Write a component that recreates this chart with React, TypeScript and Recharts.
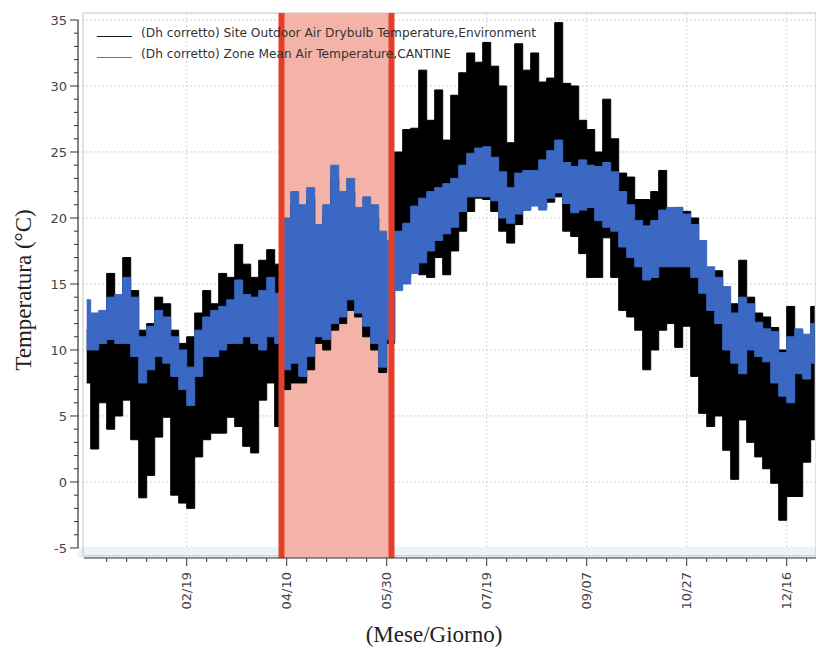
import { ComposedChart, Area, XAxis, YAxis, CartesianGrid, ReferenceArea, ReferenceLine, Legend } from 'recharts';

// day of year (0 = Jan 1), sampled every 4 days
const days = [
  0, 4, 8, 12, 16, 20, 24, 28, 32, 36, 40, 44, 48, 52, 56, 60, 64, 68, 72, 76, 80, 84, 88, 92, 96,
  100, 104, 108, 112, 116, 120, 124, 128, 132, 136, 140, 144, 148, 152,
  156, 160, 164, 168, 172, 176, 180, 184, 188, 192, 196, 200, 204, 208, 212, 216, 220, 224, 228, 232,
  236, 240, 244, 248, 252, 256, 260, 264, 268, 272, 276, 280, 284, 288, 292, 296, 300, 304, 308, 312,
  316, 320, 324, 328, 332, 336, 340, 344, 348, 352, 356, 360, 364,
];

// outdoor drybulb (black) low / high envelope
const outdoorMin = [
  7.5, 2.5, 6, 4, 5, 6.2, 3.2, -1.2, 0.5, 3.4, 4.9, -1, -1.6, -2, 1.9, 3.2, 3.7, 3.7, 4.9, 4.2, 2.7, 2.2, 6.2, 7.5, 4.2,
  7, 7.5, 7.5, 8.5, 10.5, 10, 11.5, 12, 13, 12.5, 11, 10, 8.3, 10.5,
  15, 15.5, 16, 15.7, 15.5, 17, 15.7, 17.5, 19, 20.5, 21.5, 21.4, 20.5, 19, 18.1, 19.5, 20.6, 21, 20.8, 21.2,
  21.6, 19, 18.6, 17.3, 15.5, 15.5, 18.5, 15.5, 13, 12.5, 11.5, 8.5, 10, 11.5, 12, 10.2, 11.8, 8, 5.2, 4.2,
  5, 2.4, 0.2, 4.7, 3, 1.9, 1, -0.1, -2.9, -1.1, -1.1, 1.5, 3.2,
];
const outdoorMax = [
  11.5, 12, 12.5, 15.8, 13.5, 17, 14.5, 11.5, 12, 14, 13.5, 11.5, 10.5, 11, 12.8, 14.5, 13.5, 15.8, 15.5, 18, 16.5, 15.5, 16.8, 17.6, 16.5,
  19, 21, 20, 21.5, 18.5, 20, 23, 21, 22, 20, 20.5, 20, 18, 17.5,
  25, 26.7, 26.8, 31.2, 27.4, 29.7, 25.9, 29.3, 31, 32.5, 31.8, 33.3, 31.5, 30, 25.7, 33.2, 31.2, 32.5, 30.3, 30.6,
  34.8, 30.2, 30, 27.4, 26.7, 25, 29, 26, 23.4, 23.1, 21.4, 21.4, 22, 23.6, 20.6, 20.8, 20.5, 20, 16.3, 16,
  16, 12.8, 13.5, 16.8, 14, 12.8, 12.5, 11.7, 10, 13.3, 11.5, 10.8, 13.3,
];

// zone mean air temperature (blue) low / high envelope
const zoneMin = [
  10, 10, 10.5, 10.8, 10.5, 10.5, 9.5, 7.5, 8.5, 9.5, 9, 8, 7, 5.8, 8, 9.5, 9.5, 10, 10.5, 10.5, 11, 10.5, 10, 11, 10.5,
  8.5, 9, 8, 9.5, 11, 10.8, 12, 12.5, 13.8, 12.8, 11.8, 10.5, 8.7, 10.8,
  14.5, 15, 15.8, 16.6, 17.5, 18.3, 18.8, 19.3, 20.5, 21.6, 21.6, 21.6, 21.3, 20, 19.6, 20.3, 20.6, 20.9, 20.6, 21.5,
  21.9, 21.1, 20.4, 20.6, 20.8, 19.8, 19.3, 19, 17.8, 17, 16.3, 15.3, 15.5, 16.3, 16.3, 16.3, 16.3, 15.5, 14.3, 13,
  12, 10, 9, 8.2, 10, 9.5, 9.1, 7.5, 6.5, 6, 8.2, 7.8, 9,
];
const zoneMax = [
  13.8, 12.8, 13, 14, 14.2, 15.5, 14, 11, 11.8, 13, 12.5, 11, 10, 8.7, 11.5, 12.5, 13, 13.3, 13.8, 15.3, 14.2, 14, 14.5, 15.5, 14.3,
  20, 22, 21, 22.3, 19.5, 21, 24, 22, 23, 20.8, 21.6, 21, 19, 18.3,
  19, 19.6, 20.9, 21.5, 22, 22.3, 22.6, 23, 24, 24.9, 25.3, 25.4, 24.6, 23.5, 22.3, 23.4, 23.6, 23.6, 24.4, 25.1,
  25.9, 24.2, 23.9, 24.4, 24, 23.9, 24.2, 23.5, 22, 21, 19.8, 19.4, 19.8, 20.6, 20.8, 20.8, 20.3, 19.5, 18.3, 16.3,
  15.5, 14.8, 12.8, 14, 13.5, 12.1, 11.6, 11.4, 9.8, 11, 11.6, 11.2, 12,
];

const seriesNames = [
  '(Dh corretto) Site Outdoor Air Drybulb Temperature,Environment',
  '(Dh corretto) Zone Mean Air Temperature,CANTINE',
];
const legendColors = ['#1a1a1a', '#5a6fcc'];

const xTickDays = [50, 100, 150, 200, 250, 300, 350];
const xTickLabels = ['02/19', '04/10', '05/30', '07/19', '09/07', '10/27', '12/16'];
const xMinorDays = [
  10, 20, 30, 40, 50, 60, 70, 80, 90, 100, 110, 120, 130, 140, 150, 160, 170, 180,
  190, 200, 210, 220, 230, 240, 250, 260, 270, 280, 290, 300, 310, 320, 330, 340, 350, 360,
];
const yMajorTicks = [-5, 0, 5, 10, 15, 20, 25, 30, 35];
const yMinorTicks = [
  -5, -4, -3, -2, -1, 0, 1, 2, 3, 4, 5, 6, 7, 8, 9, 10, 11, 12, 13, 14, 15, 16, 17, 18, 19, 20,
  21, 22, 23, 24, 25, 26, 27, 28, 29, 30, 31, 32, 33, 34, 35,
];

// highlighted period (day of year)
const windowStart = 97.4;
const windowEnd = 152.4;

const X_DOMAIN: [number, number] = [-4.35, 364.65];
const Y_DOMAIN: [number, number] = [-5.76, 35.53];

const data = days.map((d, i) => ({
  day: d,
  outdoor: [outdoorMin[i], outdoorMax[i]],
  zone: [zoneMin[i], zoneMax[i]],
}));

const AXIS = '#333';
const FONT = 'DejaVu Sans, Verdana, sans-serif';
const SERIF = 'Liberation Serif, serif';

const XTick = ({ x, y, payload }: any) => {
  const i = xTickDays.indexOf(payload.value);
  const major = i >= 0;
  const tx = x + 4.7;
  const ty = y + 14;
  return (
    <g>
      <line x1={x} y1={y} x2={x} y2={y + (major ? 8 : 4)} stroke={AXIS} />
      {major && (
        <text x={tx} y={ty} transform={`rotate(-90 ${tx} ${ty})`} textAnchor="end" fontSize={13} fill="#444" fontFamily={FONT}>
          {xTickLabels[i]}
        </text>
      )}
    </g>
  );
};

const YTick = ({ x, y, payload }: any) => {
  const major = yMajorTicks.includes(payload.value);
  return (
    <g>
      <line x1={x - (major ? 8 : 4)} y1={y} x2={x} y2={y} stroke={AXIS} />
      {major && (
        <text x={x - 11} y={y} dy="0.36em" textAnchor="end" fontSize={13} fill="#444" fontFamily={FONT}>
          {payload.value}
        </text>
      )}
    </g>
  );
};

const renderLegend = () => (
  <div style={{ fontFamily: FONT, fontSize: 12.2, color: '#333' }}>
    {seriesNames.map((name, i) => (
      <div key={name} style={{ display: 'flex', alignItems: 'center', height: 21, whiteSpace: 'nowrap' }}>
        <span style={{ display: 'inline-block', width: 35, height: 1, background: legendColors[i], marginRight: 9, position: 'relative', top: 4 }} />
        <span>{name}</span>
      </div>
    ))}
  </div>
);

export default function App() {
  return (
    <div style={{ position: 'absolute', left: 0, top: 0, width: 816, height: 648, background: '#fff' }}>
      <ComposedChart width={816} height={648} data={data} margin={{ top: 13, right: 0, bottom: 0, left: 0 }}>
        <ReferenceArea y1={Y_DOMAIN[0]} y2={-5} fill="#edf2f6" fillOpacity={1} stroke="none" />
        <CartesianGrid
          stroke="#d2d2d2"
          strokeDasharray="2 2"
          horizontalValues={yMajorTicks}
          verticalValues={xTickDays}
        />
        <XAxis
          type="number"
          dataKey="day"
          domain={X_DOMAIN}
          allowDataOverflow
          ticks={xMinorDays}
          interval={0}
          tick={<XTick />}
          tickLine={false}
          tickSize={0}
          tickMargin={0}
          height={90}
          axisLine={false}
          label={() => (
            <text x={434} y={642} textAnchor="middle" fontSize={23} fill="#222" fontFamily={SERIF}>
              (Mese/Giorno)
            </text>
          )}
        />
        <YAxis
          type="number"
          domain={Y_DOMAIN}
          allowDataOverflow
          ticks={yMinorTicks}
          interval={0}
          tick={<YTick />}
          tickLine={false}
          tickSize={0}
          tickMargin={0}
          width={78}
          axisLine={false}
          label={() => (
            <text x={23} y={290} transform="rotate(-90 23 290)" textAnchor="middle" dominantBaseline="central" fontSize={23} fill="#222" fontFamily={SERIF}>
              Temperatura (°C)
            </text>
          )}
        />
        <ReferenceArea x1={-1.85} x2={X_DOMAIN[1]} y1={-5.6} y2={Y_DOMAIN[1]} fill="none" stroke="#c4c4c4" ifOverflow="visible" />
        <ReferenceArea x1={windowStart} x2={windowEnd} fill="#f4b3a8" fillOpacity={1} stroke="none" />
        <Area
          type="step"
          dataKey="outdoor"
          name={seriesNames[0]}
          stroke="#000"
          strokeWidth={1}
          fill="#000"
          fillOpacity={1}
          dot={false}
          activeDot={false}
          isAnimationActive={false}
        />
        <Area
          type="step"
          dataKey="zone"
          name={seriesNames[1]}
          stroke="#3b68c2"
          strokeWidth={1}
          fill="#3b68c2"
          fillOpacity={1}
          dot={false}
          activeDot={false}
          isAnimationActive={false}
        />
        <ReferenceLine x={windowStart} stroke="#e3402a" strokeWidth={6} />
        <ReferenceLine x={windowEnd} stroke="#e3402a" strokeWidth={6} />
        {/* axis lines: y axis only spans -5..35, x axis starts at the plot frame */}
        <ReferenceLine segment={[{ x: X_DOMAIN[0], y: -5 }, { x: X_DOMAIN[0], y: 35 }]} stroke={AXIS} strokeWidth={1.2} ifOverflow="visible" />
        <ReferenceLine segment={[{ x: -1.35, y: Y_DOMAIN[0] }, { x: X_DOMAIN[1], y: Y_DOMAIN[0] }]} stroke={AXIS} strokeWidth={1.2} ifOverflow="visible" />
        <Legend
          layout="vertical"
          verticalAlign="middle"
          content={renderLegend}
          wrapperStyle={{ position: 'absolute', left: 97, top: 22, width: 'auto', height: 'auto' }}
        />
      </ComposedChart>
    </div>
  );
}
